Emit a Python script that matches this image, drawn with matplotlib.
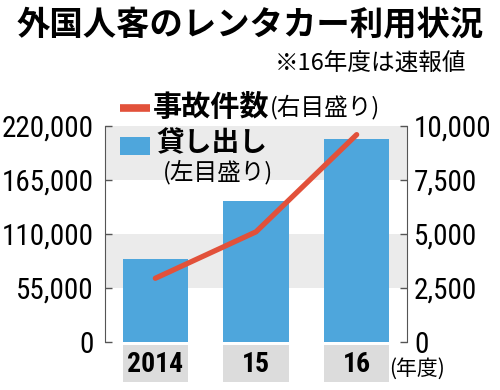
import matplotlib
matplotlib.use('Agg')
import matplotlib.pyplot as plt
from matplotlib import font_manager
from matplotlib.patches import Rectangle
from matplotlib.transforms import blended_transform_factory

# ---- data ----
years = ['2014', '15', '16']
rentals = [85000, 144000, 207000]      # 貸し出し (left axis)
accidents = [2950, 5100, 9600]         # 事故件数 (right axis)
left_ticks = [0, 55000, 110000, 165000, 220000]
right_ticks = [0, 2500, 5000, 7500, 10000]

title = '外国人客のレンタカー利用状況'
subtitle = '※16年度は速報値'

names = {f.name for f in font_manager.fontManager.ttflist}
num_font = 'DejaVu Sans'
for cand in ['Liberation Sans Narrow', 'Roboto Condensed', 'Open Sans Condensed', 'Liberation Sans']:
    if cand in names:
        num_font = cand
        break
JP = ['Noto Sans CJK JP', 'DejaVu Sans']
NUM = [num_font, 'DejaVu Sans']

BLUE = '#4ea6dc'
RED = '#e2513a'
BAND = '#ebebeb'
BOX = '#dcdcdc'
SPINE = '#555555'

W, H = 500, 390
fig = plt.figure(figsize=(W / 100, H / 100), dpi=100)
fig.patch.set_facecolor('white')

def fx(px):
    return px / W

def fy(py):
    return 1 - py / H

ax = fig.add_axes([fx(105), fy(342), fx(407) - fx(105), fy(126) - fy(342)])
ax2 = ax.twinx()

x = list(range(len(years)))
ax.set_xlim(-0.5, 2.5)
ax.set_ylim(0, 220000)
ax2.set_ylim(0, 10000)

ax.axhspan(165000, 220000, color=BAND, zorder=0, lw=0)
ax.axhspan(55000, 110000, color=BAND, zorder=0, lw=0)
ax.bar(x, rentals, width=0.65, color=BLUE, zorder=2)
ax2.plot(x, accidents, color=RED, lw=3.8, solid_capstyle='round', zorder=3)

ax.set_xticks([])
ax.set_yticks(left_ticks)
ax.set_yticklabels([f'{v:,}' for v in left_ticks], family=NUM, fontsize=21)
ax2.set_yticks(right_ticks)
ax2.set_yticklabels([f'{v:,}' for v in right_ticks], family=NUM, fontsize=21)
ax.tick_params(axis='y', direction='in', length=5, width=1, color=SPINE, pad=8)
ax2.tick_params(axis='y', direction='in', length=5, width=1, color=SPINE, pad=5)

for s in ['top', 'bottom', 'right']:
    ax.spines[s].set_visible(False)
for s in ['top', 'bottom', 'left']:
    ax2.spines[s].set_visible(False)
ax.spines['left'].set_color(SPINE)
ax2.spines['right'].set_color(SPINE)

# category label boxes
trans = blended_transform_factory(ax.transData, fig.transFigure)
for xi, lab in zip(x, years):
    ax.add_patch(Rectangle((xi - 0.325, fy(382)), 0.65, fy(345) - fy(382),
                           transform=trans, clip_on=False, color=BOX, lw=0))
    ax.text(xi, fy(364), lab, transform=trans, ha='center', va='center',
            family=NUM, fontsize=20, fontweight='bold', clip_on=False)
fig.text(fx(389), fy(369), '(年度)', family=JP, fontsize=15, va='center', ha='left')

# title / subtitle
fig.text(0.5, fy(25), title, family=JP, fontsize=24, fontweight='bold',
         ha='center', va='center')
fig.text(fx(466), fy(64), subtitle, family=JP, fontsize=17, ha='right', va='center')

# legend
fig.add_artist(plt.Line2D([fx(120), fx(150)], [fy(108), fy(108)], color=RED, lw=5.5,
                          solid_capstyle='butt'))
t1 = fig.text(fx(153), fy(107), '事故件数', family=JP, fontsize=21, fontweight='bold',
              ha='left', va='center')
ax.annotate('(右目盛り)', xy=(1, 0.1), xycoords=t1, family=JP, fontsize=17,
            ha='left', va='bottom', annotation_clip=False)

fig.add_artist(Rectangle((fx(120), fy(155)), fx(150) - fx(120), fy(137) - fy(155),
                         transform=fig.transFigure, color=BLUE, lw=0))
fig.text(fx(156), fy(143), '貸し出し', family=JP, fontsize=20, fontweight='bold',
         ha='left', va='center', zorder=5)
fig.text(fx(163), fy(172), '(左目盛り)', family=JP, fontsize=17,
         ha='left', va='center', zorder=5)

fig.savefig('out.png', dpi=100)
